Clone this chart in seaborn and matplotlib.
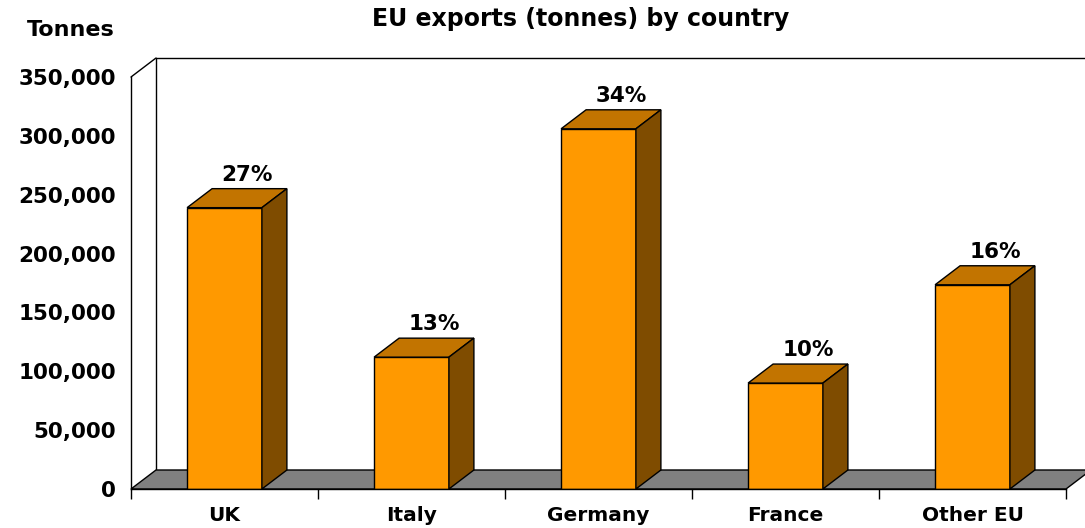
import matplotlib
matplotlib.use("Agg")
import matplotlib.pyplot as plt
from matplotlib.patches import Polygon
from matplotlib.ticker import FuncFormatter, FixedLocator
import seaborn as sns
import numpy as np

# Export volumes by destination
countries = ["UK", "Italy", "Germany", "France", "Other EU"]
tonnes = [239000, 112000, 306000, 90000, 173500]
shares = ["27%", "13%", "34%", "10%", "16%"]
y_ticks = [0, 50000, 100000, 150000, 200000, 250000, 300000, 350000]

FRONT = "#FF9900"
TOP = "#C27400"
SIDE = "#7F4C00"
FLOOR = "#808080"

sns.set_style("white")
plt.rcParams["font.family"] = ["DejaVu Sans"]
plt.rcParams.update({"text.color": "black", "xtick.color": "black",
                     "ytick.color": "black", "axes.labelcolor": "black"})

fig = plt.figure(figsize=(10.85, 5.28), dpi=100)
ax = fig.add_axes([131 / 1085, (528 - 489) / 528, 935 / 1085, 412 / 528])

sns.barplot(x=countries, y=tonnes, color=FRONT, width=0.4, saturation=1,
            edgecolor="black", linewidth=1.0, ax=ax, zorder=3)
bars = list(ax.patches)

ymax = 350000
ax.set_xlim(-0.5, 4.5)
ax.set_ylim(0, ymax)

# pseudo-3D depth, in data units
dx = 25 / 187
dy = 19 / 412 * ymax

# grey floor
floor = Polygon([(-0.5, 0), (4.5, 0), (4.5 + dx, dy), (-0.5 + dx, dy)],
                closed=True, facecolor=FLOOR, edgecolor="black", lw=1.0,
                zorder=1, clip_on=False)
ax.add_patch(floor)

# back wall edges and left wall diagonal
ax.plot([-0.5 + dx, -0.5 + dx], [dy, ymax + dy], color="black", lw=1.0,
        zorder=0.5, clip_on=False)
ax.plot([-0.5 + dx, 4.5 + dx], [ymax + dy, ymax + dy], color="black", lw=1.0,
        zorder=0.5, clip_on=False)
ax.plot([-0.5, -0.5 + dx], [ymax, ymax + dy], color="black", lw=1.0,
        zorder=0.5, clip_on=False)

# top and side faces of each column, plus share labels
for patch, label in zip(bars, shares):
    x0 = patch.get_x()
    w = patch.get_width()
    h = patch.get_height()
    x1 = x0 + w
    top = Polygon([(x0, h), (x1, h), (x1 + dx, h + dy), (x0 + dx, h + dy)],
                  closed=True, facecolor=TOP, edgecolor="black", lw=1.0,
                  zorder=3, clip_on=False)
    side = Polygon([(x1, 0), (x1 + dx, dy), (x1 + dx, h + dy), (x1, h)],
                   closed=True, facecolor=SIDE, edgecolor="black", lw=1.0,
                   zorder=3, clip_on=False)
    ax.add_patch(top)
    ax.add_patch(side)
    ax.text(x0 + w / 2 + dx * 0.9, h + dy + 0.01 * ymax, label, ha="center",
            va="bottom", fontsize=15.5, fontweight="bold", zorder=5)

# axes styling
for s in ["top", "right"]:
    ax.spines[s].set_visible(False)
for s in ["left", "bottom"]:
    ax.spines[s].set_color("black")
    ax.spines[s].set_linewidth(1.0)
    ax.spines[s].set_zorder(4)

ax.yaxis.set_major_locator(FixedLocator(y_ticks))
ax.yaxis.set_major_formatter(FuncFormatter(lambda v, p: f"{v:,.0f}"))
ax.tick_params(axis="y", which="major", direction="out", length=6, width=1,
               color="black", pad=5, labelsize=15.5)
for t in ax.get_yticklabels():
    t.set_fontweight("bold")

ax.set_xticks(np.arange(-0.5, 5.0, 1.0))
ax.set_xticklabels([])
ax.set_xticks(np.arange(len(countries)), minor=True)
ax.set_xticklabels(countries, minor=True, fontsize=14.5, fontweight="bold")
ax.tick_params(axis="x", which="major", direction="out", length=7, width=1,
               color="black", bottom=True)
ax.tick_params(axis="x", which="minor", length=0, pad=12, bottom=True)
ax.set_xlabel("")
ax.set_ylabel("")
ax.grid(False)

fig.text(581 / 1085, 1 - 19 / 528, "EU exports (tonnes) by country",
         ha="center", va="center", fontsize=17, fontweight="bold")
fig.text(71 / 1085, 1 - 30 / 528, "Tonnes", ha="center", va="center",
         fontsize=16, fontweight="bold")

fig.savefig("out.png", dpi=100, facecolor="white")
